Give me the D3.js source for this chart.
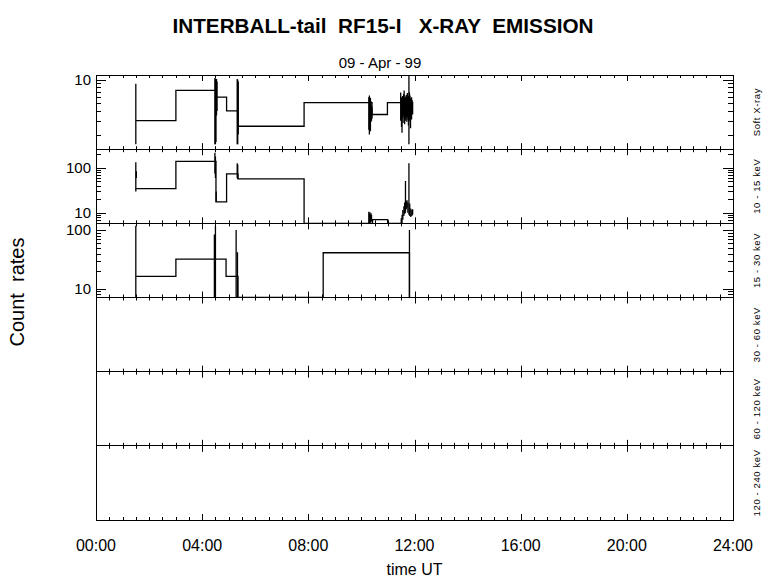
<!DOCTYPE html>
<html><head><meta charset="utf-8">
<script src="https://cdn.jsdelivr.net/npm/d3@7"></script>
<style>
body{margin:0;background:#fff}
svg{display:block}
text{font-family:"Liberation Sans",Arial,Helvetica,sans-serif;fill:#000}
</style></head>
<body><svg id="c" width="780" height="579"></svg>
<script>
// ---------- data ----------
const titleText = "INTERBALL-tail  RF15-I   X-RAY  EMISSION";
const dateText = "09 - Apr - 99";
const xTitle = "time UT";
const yTitle = "Count  rates";
const panelLabels = ["Soft X-ray", "10 - 15 keV", "15 - 30 keV", "30 - 60 keV", "60 - 120 keV", "120 - 240 keV"];
const hourTicks = [0, 4, 8, 12, 16, 20, 24];
const hourTickLabels = ["00:00", "04:00", "08:00", "12:00", "16:00", "20:00", "24:00"];

// log y domains of the three populated panels
const softDomain = [1.3, 11.5];
const lowDomain = [5.8, 263];
const midDomain = [7.05, 132];
const softLabelTicks = [10];
const lowLabelTicks = [10, 100];
const midLabelTicks = [10, 100];

// step series (hour UT, count rate); value 1 = below plotting range
const softT = [1.50, 3.01, 4.52, 4.92, 5.35, 7.84, 10.40, 10.98, 11.48];
const softV = [3.0, 7.3, 6.0, 4.0, 2.55, 5.1, 3.6, 5.1, 5.1];
const lowT = [1.50, 3.01, 4.52, 4.92, 5.35, 7.84, 10.42, 10.99, 11.50];
const lowV = [34.4, 140, 17.5, 73.7, 57, 1, 7.0, 1, 1];
const midT = [1.50, 3.01, 4.90, 5.35, 8.56, 11.81, 11.82];
const midV = [16.2, 32, 16.2, 1, 41.3, 1, 1];

// short bursts: [hour, low value, high value]
const softSpikes = [
  [1.50, 1.5, 8.9],
  [4.48, 1.5, 10.5], [4.50, 1.5, 10.3], [4.52, 1.6, 10.0], [4.54, 3.5, 10.2], [4.56, 4.0, 9.5],
  [5.32, 1.5, 10.2], [5.34, 1.5, 10.0], [5.36, 2.0, 9.5],
  [10.28, 2.3, 6.0], [10.30, 2.0, 6.3], [10.32, 2.5, 5.6], [10.34, 2.2, 5.9], [10.36, 2.9, 5.3], [10.38, 3.0, 4.6], [10.40, 3.2, 4.4],
  [11.48, 3.0, 6.9], [11.51, 2.5, 6.0], [11.53, 2.1, 5.5], [11.55, 3.3, 6.2], [11.57, 2.8, 5.9],
  [11.59, 3.5, 6.6], [11.61, 3.2, 7.3], [11.63, 2.7, 6.0], [11.65, 3.4, 6.1], [11.67, 3.0, 5.8],
  [11.69, 3.3, 6.4], [11.71, 2.9, 5.9], [11.73, 3.4, 6.8], [11.75, 3.1, 6.0], [11.77, 2.6, 6.2],
  [11.79, 1.5, 11.5], [11.81, 3.0, 6.9], [11.83, 3.6, 6.3], [11.85, 2.4, 5.8], [11.87, 3.3, 5.8],
  [11.89, 3.1, 6.0], [11.91, 3.9, 5.5], [11.93, 3.6, 5.2]
];
const lowSpikes = [
  [1.50, 30, 134], [1.52, 60, 85],
  [4.48, 75, 220], [4.50, 60, 180], [4.53, 17.5, 30],
  [5.32, 60, 127], [5.34, 57, 120],
  [10.28, 5.8, 10.5], [10.30, 5.8, 9.5], [10.32, 6.5, 10.2], [10.34, 6.0, 8.8], [10.36, 6.2, 9.8], [10.38, 6.5, 9.0],
  [11.50, 5.8, 7.5], [11.53, 5.8, 9.0], [11.56, 7.0, 11.5], [11.60, 8.5, 14], [11.63, 9.5, 17],
  [11.66, 10, 51], [11.69, 12, 18.5], [11.72, 13, 19], [11.75, 10, 17], [11.79, 9, 127],
  [11.82, 8.5, 16], [11.86, 8.0, 12.5], [11.90, 8.5, 11.5], [11.93, 9, 12]
];
const midSpikes = [
  [1.50, 1, 120], [4.46, 1, 85], [4.50, 1, 120], [5.28, 1, 101], [5.33, 1, 42], [11.81, 1, 101]
];

// ---------- drawing ----------
const L = 96, R = 733, T = 75, B = 520;
const nPanels = panelLabels.length;
const ph = (B - T) / nPanels;
const svg = d3.select("#c");

const x = d3.scaleLinear().domain([0, 24]).range([L, R]);

const panels = [
  {domain: softDomain, labels: softLabelTicks, t: softT, v: softV, spikes: softSpikes},
  {domain: lowDomain, labels: lowLabelTicks, t: lowT, v: lowV, spikes: lowSpikes},
  {domain: midDomain, labels: midLabelTicks, t: midT, v: midV, spikes: midSpikes},
  {}, {}, {}
];

const minorHours = d3.range(0, 24.001, 0.5);

panels.forEach((p, i) => {
  const y0 = T + i * ph, y1 = y0 + ph;
  const g = svg.append("g");

  g.append("rect").attr("x", L).attr("y", y0).attr("width", R - L).attr("height", ph)
    .attr("fill", "none").attr("stroke", "#000").attr("stroke-width", 1).attr("shape-rendering", "crispEdges");

  minorHours.forEach(hh => {
    const major = hh % 4 === 0;
    const len = major ? 6 : 3;
    const xx = Math.round(x(hh)) + 0.5;
    g.append("line").attr("x1", xx).attr("x2", xx).attr("y1", y0).attr("y2", y0 + len)
      .attr("stroke", "#000").attr("stroke-width", 1);
    g.append("line").attr("x1", xx).attr("x2", xx).attr("y1", y1).attr("y2", y1 - len)
      .attr("stroke", "#000").attr("stroke-width", 1);
  });

  g.append("text").attr("transform", `translate(760,${(y0 + y1) / 2}) rotate(-90)`)
    .attr("text-anchor", "middle").attr("font-size", 9.5).attr("letter-spacing", 0.6)
    .style("white-space", "pre").text(panelLabels[i]);

  if (!p.domain) return;

  const y = d3.scaleLog().domain(p.domain).range([y1, y0]).clamp(true);

  y.ticks().forEach(tv => {
    const yy = Math.round(y(tv)) + 0.5;
    const major = p.labels.indexOf(tv) >= 0;
    const len = major ? 10 : 5;
    g.append("line").attr("x1", L).attr("x2", L + len).attr("y1", yy).attr("y2", yy).attr("stroke", "#000");
    g.append("line").attr("x1", R).attr("x2", R - len).attr("y1", yy).attr("y2", yy).attr("stroke", "#000");
  });
  p.labels.forEach(tv => {
    g.append("text").attr("x", 91).attr("y", y(tv) + 5).attr("text-anchor", "end")
      .attr("font-size", 15).text(tv);
  });

  const clipId = "clip" + i;
  svg.append("clipPath").attr("id", clipId).append("rect")
    .attr("x", L).attr("y", y0).attr("width", R - L).attr("height", ph);
  const dg = g.append("g").attr("clip-path", `url(#${clipId})`);

  const pts = p.t.map((t, k) => [t, p.v[k]]);
  const line = d3.line().x(d => x(d[0])).y(d => y(d[1])).curve(d3.curveStepAfter);
  dg.append("path").attr("d", line(pts)).attr("fill", "none").attr("stroke", "#000").attr("stroke-width", 1.3);

  dg.selectAll("line.sp").data(p.spikes).enter().append("line")
    .attr("x1", d => x(d[0])).attr("x2", d => x(d[0]))
    .attr("y1", d => y(d[1])).attr("y2", d => y(d[2]))
    .attr("stroke", "#000").attr("stroke-width", 1.3);
});

svg.selectAll("text.xl").data(hourTicks).enter().append("text")
  .attr("x", d => x(d)).attr("y", 551).attr("text-anchor", "middle")
  .attr("font-size", 16).text((d, k) => hourTickLabels[k]);

svg.append("text").attr("x", x(12)).attr("y", 575).attr("text-anchor", "middle")
  .attr("font-size", 16).text(xTitle);

svg.append("text").attr("transform", "translate(24,292) rotate(-90)").attr("text-anchor", "middle")
  .attr("font-size", 20).style("white-space", "pre").text(yTitle);

svg.append("text").attr("x", 383).attr("y", 33).attr("text-anchor", "middle")
  .attr("font-size", 20).attr("font-weight", "bold").style("white-space", "pre")
  .attr("textLength", 421).attr("lengthAdjust", "spacingAndGlyphs").text(titleText);

svg.append("text").attr("x", 380).attr("y", 68).attr("text-anchor", "middle")
  .attr("font-size", 15).style("white-space", "pre").text(dateText);
</script></body></html>
